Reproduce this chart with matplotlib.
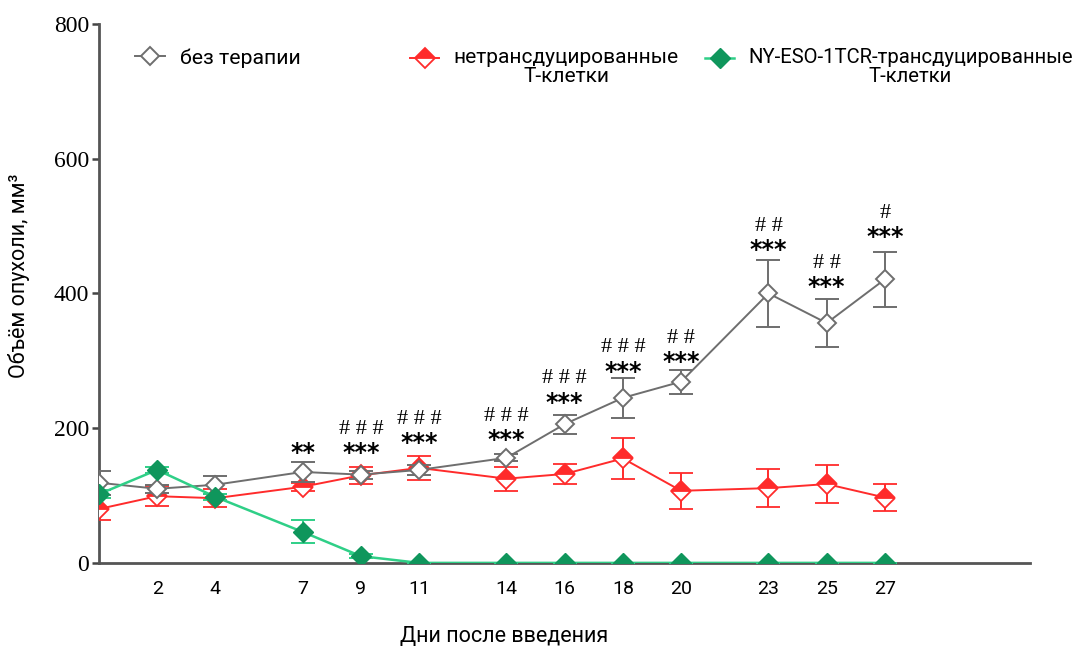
#!/usr/bin/env python3
"""Tumour volume vs days after injection, three treatment groups."""

import matplotlib
matplotlib.use("Agg")
import matplotlib.pyplot as plt
from matplotlib.legend import Legend
from matplotlib.legend_handler import HandlerLine2D
from matplotlib.lines import Line2D

days = [0, 2, 4, 7, 9, 11, 14, 16, 18, 20, 23, 25, 27]

ctrl_mean = [119, 110, 116, 135, 131, 138, 156, 206, 245, 269, 400, 356, 421]
ctrl_err = [18, 6, 13, 15, 6, 8, 5, 14, 30, 18, 50, 35, 41]

untr_mean = [80, 99, 96, 113, 130, 141, 125, 132, 155, 107, 111, 117, 97]
untr_err = [16, 15, 13, 6, 13, 18, 18, 15, 30, 27, 28, 28, 20]

tcr_mean = [102, 138, 98, 46, 10, 0, 0, 0, 0, 0, 0, 0, 0]
tcr_err = [6, 4, 5, 17, 3, 0, 0, 0, 0, 0, 0, 0, 0]

# significance marks above the control group
sig_days = [7, 9, 11, 14, 16, 18, 20, 23, 25, 27]
sig_stars = ["**", "***", "***", "***", "***", "***", "***", "***", "***", "***"]
sig_hash = ["", "# # #", "# # #", "# # #", "# # #", "# # #", "# #", "# #", "# #", "#"]
sig_y = [163, 163, 178, 182, 238, 284, 298, 465, 410, 483]

labels = ["без терапии", "нетрансдуцированные\nТ-клетки",
          "NY-ESO-1TCR-трансдуцированные\nТ-клетки"]

GRAY = "#6e6e6e"
RED = "#ff2b2b"
GREEN_LINE = "#2fcf87"
GREEN_MK = "#0f965c"
SANS = "Roboto"
SERIF = "Liberation Serif"


class TopHandler(HandlerLine2D):
    """Put the legend marker on the first line of a two-line label."""

    def create_artists(self, legend, orig_handle, xdescent, ydescent,
                       width, height, fontsize, trans):
        return super().create_artists(legend, orig_handle, xdescent,
                                       ydescent - 0.9 * fontsize, width,
                                       height, fontsize, trans)


fig = plt.figure(figsize=(10.87, 6.47), dpi=100)
ax = fig.add_axes([0.091, 0.130, 0.857, 0.833])

eb = dict(lw=1.4, capsize=8.5, capthick=1.4, elinewidth=1.4)
ax.errorbar(days, ctrl_mean, yerr=ctrl_err, color=GRAY, marker="D", ms=9,
            mfc="white", mec=GRAY, mew=1.4, zorder=4, **eb)
ax.errorbar(days, untr_mean, yerr=untr_err, color=RED, marker="D", ms=10.5,
            mfc=RED, mfcalt="white", fillstyle="top", mec=RED, mew=1.3,
            zorder=3, **eb)
ax.errorbar(days, tcr_mean, yerr=tcr_err, color=GREEN_LINE, marker="D", ms=10,
            mfc=GREEN_MK, mec=GREEN_MK, zorder=5, lw=1.8, capsize=8.5,
            capthick=1.4, elinewidth=1.4)

for d, s, h, y in zip(sig_days, sig_stars, sig_hash, sig_y):
    ax.text(d, y, s, ha="center", va="center", fontsize=17, fontweight="bold",
            family="DejaVu Sans")
    if h:
        ax.text(d, y + 35, h, ha="center", va="center", fontsize=16, family=SERIF)

ax.set_xlim(0, 32)
ax.set_ylim(0, 800)
ax.set_xticks(days[1:])
ax.set_xticklabels([str(d) for d in days[1:]], family=SANS, fontsize=14)
ax.set_yticks([0, 200, 400, 600, 800])
ax.set_yticklabels(["0", "200", "400", "600", "800"], family=SERIF, fontsize=17)
ax.tick_params(axis="x", length=0, pad=12)
ax.tick_params(axis="y", length=5, width=1.8, color="#444444", pad=2)

for side in ("top", "right"):
    ax.spines[side].set_visible(False)
for side in ("left", "bottom"):
    ax.spines[side].set_color("#555555")
    ax.spines[side].set_linewidth(2)

ax.set_xlabel("Дни после введения", family=SANS, fontsize=15.5)
ax.set_ylabel("Объём опухоли, мм³", family=SANS, fontsize=15.5)
ax.xaxis.set_label_coords(0.435, -0.117)
ax.yaxis.set_label_coords(-0.074, 0.532)

handles = [
    Line2D([], [], color=GRAY, lw=1.4, marker="D", ms=9, mfc="white", mec=GRAY, mew=1.4),
    Line2D([], [], color=RED, lw=1.4, marker="D", ms=10.5, mfc=RED, mfcalt="white",
           fillstyle="top", mec=RED, mew=1.3),
    Line2D([], [], color=GREEN_LINE, lw=1.8, marker="D", ms=10, mfc=GREEN_MK, mec=GREEN_MK),
]
anchors = [0.039, 0.334, 0.651]
sizes = [15.3, 15.0, 14.6]
for h, lab, xa, fs in zip(handles, labels, anchors, sizes):
    leg = Legend(ax, [h], [lab], loc="upper left", bbox_to_anchor=(xa, 0.955),
                 frameon=False, prop={"family": SANS, "size": fs},
                 handlelength=1.4, handletextpad=0.7, borderpad=0, borderaxespad=0,
                 handler_map={Line2D: TopHandler() if "\n" in lab else HandlerLine2D()})
    for t in leg.get_texts():
        t.set_multialignment("center")
        t.set_linespacing(1.0)
    ax.add_artist(leg)

fig.savefig("out.png", dpi=100)
